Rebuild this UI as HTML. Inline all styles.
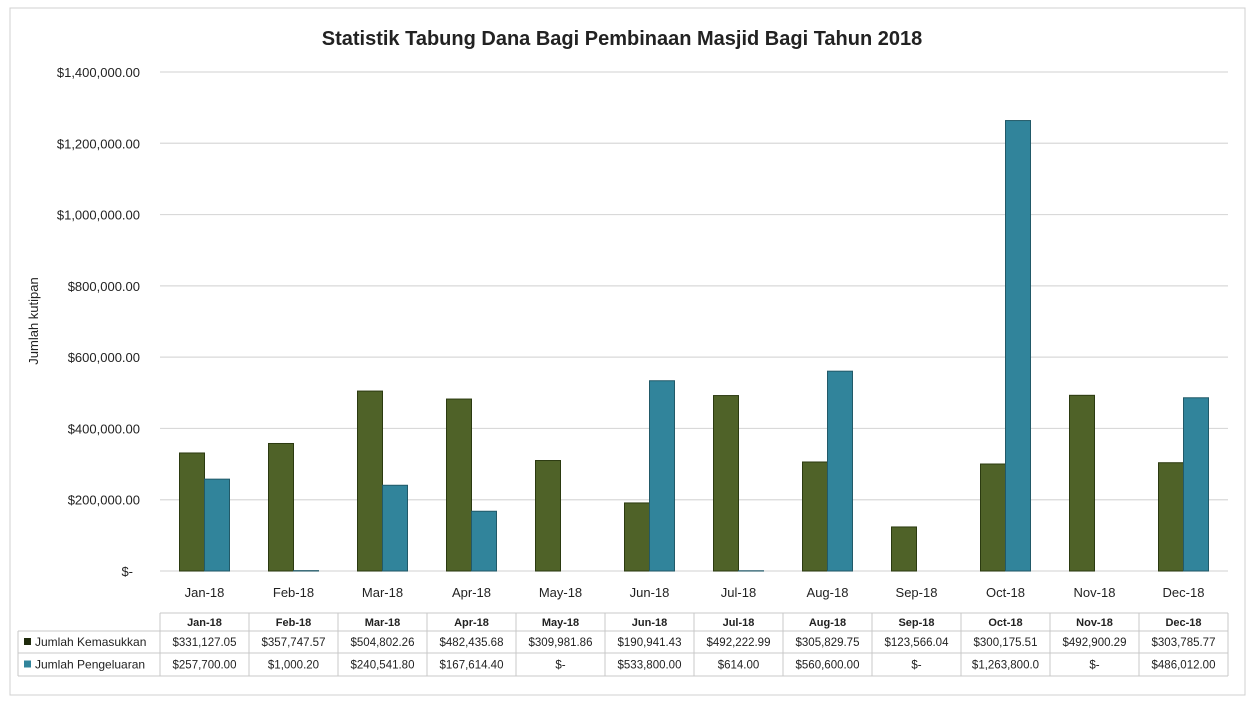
<!DOCTYPE html>
<html><head><meta charset="utf-8"><style>
body{margin:0;background:#fff;font-family:"Liberation Sans",sans-serif;}
svg text{font-family:"Liberation Sans",sans-serif;}
</style></head><body>
<svg id="c" width="1253" height="701" xmlns="http://www.w3.org/2000/svg">
<rect x="10" y="8" width="1235" height="687" fill="#fff" stroke="#d0d0d0"/>
<text x="622" y="45" text-anchor="middle" font-size="20" font-weight="bold" fill="#222">Statistik Tabung Dana Bagi Pembinaan Masjid Bagi Tahun 2018</text>
<text transform="translate(38,321) rotate(-90)" text-anchor="middle" font-size="13" fill="#222">Jumlah kutipan</text>
<g id="grid"></g><g id="bars"></g><g id="tbl"></g>
</svg>
<script>
const categories=["Jan-18","Feb-18","Mar-18","Apr-18","May-18","Jun-18","Jul-18","Aug-18","Sep-18","Oct-18","Nov-18","Dec-18"];
const tableHeaders=["Jan-18","Feb-18","Mar-18","Apr-18","May-18","Jun-18","Jul-18","Aug-18","Sep-18","Oct-18","Nov-18","Dec-18"];
const masuk=[331127.05,357747.57,504802.26,482435.68,309981.86,190941.43,492222.99,305829.75,123566.04,300175.51,492900.29,303785.77];
const keluar=[257700,1000.20,240541.80,167614.40,0,533800,614,560600,0,1263800,0,486012];
const masukLabels=["$331,127.05","$357,747.57","$504,802.26","$482,435.68","$309,981.86","$190,941.43","$492,222.99","$305,829.75","$123,566.04","$300,175.51","$492,900.29","$303,785.77"];
const keluarLabels=["$257,700.00","$1,000.20","$240,541.80","$167,614.40","$-","$533,800.00","$614.00","$560,600.00","$-","$1,263,800.0","$-","$486,012.00"];
const yTicks=[0,200000,400000,600000,800000,1000000,1200000,1400000];
const yTickLabels=["$-","$200,000.00","$400,000.00","$600,000.00","$800,000.00","$1,000,000.00","$1,200,000.00","$1,400,000.00"];
const NS="http://www.w3.org/2000/svg";
const X0=160,X1=1228,Y0=571,Y1=72,MAX=1400000,cw=(X1-X0)/categories.length;
const y=v=>Y0-(v/MAX)*(Y0-Y1);
const x=i=>X0+i*cw;
function mk(p,t,a,txt){const e=document.createElementNS(NS,t);for(const k in a)e.setAttribute(k,a[k]);if(txt!=null)e.textContent=txt;p.appendChild(e);return e;}
const grid=document.getElementById('grid'),bars=document.getElementById('bars'),tbl=document.getElementById('tbl');
yTicks.forEach((t,i)=>{
 const l=mk(grid,'line',{x1:X0,x2:X1,y1:y(t),y2:y(t),stroke:'#d9d9d9','stroke-width':1.2});
 
 
 const tx=mk(grid,'text',{x:i==0?133:140,y:y(t)+5,'text-anchor':'end','font-size':13,fill:'#222'},yTickLabels[i]);
 
 
});
categories.forEach((c,i)=>{
 const cx=x(i)+cw/2,bw=25;
 const g=mk(bars,'rect',{x:cx-bw,y:y(masuk[i]),width:bw,height:Y0-y(masuk[i]),fill:'#4f6228',stroke:'#2b3a10','stroke-width':1});
 
 
 const b=mk(bars,'rect',{x:cx,y:y(keluar[i]),width:bw,height:Y0-y(keluar[i]),fill:'#31849b',stroke:'#215968','stroke-width':1});
 
 
 const t=mk(bars,'text',{x:cx,y:597,'text-anchor':'middle','font-size':13,fill:'#222'},c);
 
 
});
// table
const rows=[613,631,653,676];
const ln=(a)=>{const l=mk(tbl,'line',Object.assign({stroke:'#c8c8c8','stroke-width':1},a));};
ln({x1:X0,x2:X1,y1:rows[0],y2:rows[0]});
for(let r=1;r<4;r++)ln({x1:18,x2:X1,y1:rows[r],y2:rows[r]});
ln({x1:18,x2:18,y1:rows[1],y2:rows[3]});
for(let i=0;i<=12;i++)ln({x1:x(i),x2:x(i),y1:rows[0],y2:rows[3]});
const cols=[tableHeaders,masukLabels,keluarLabels];
cols.forEach((arr,r)=>arr.forEach((s,i)=>{
 const t=mk(tbl,'text',{x:x(i)+cw/2,y:rows[r]+(rows[r+1]-rows[r])/2+4,'text-anchor':'middle','font-size':r==0?11:11.5,'font-weight':r==0?'bold':'normal',fill:'#222'},s);
 
 
}));
[["Jumlah Kemasukkan","#1f2a0c",1],["Jumlah Pengeluaran","#31849b",2]].forEach(([n,col,r])=>{
 const cy=(rows[r]+rows[r+1])/2;
 const k=mk(tbl,'rect',{x:24,y:cy-4,width:7,height:7,fill:col});
 
 
 const t=mk(tbl,'text',{x:35,y:cy+4,'font-size':12,fill:'#222'},n);
 
 
});
</script>
</body></html>
